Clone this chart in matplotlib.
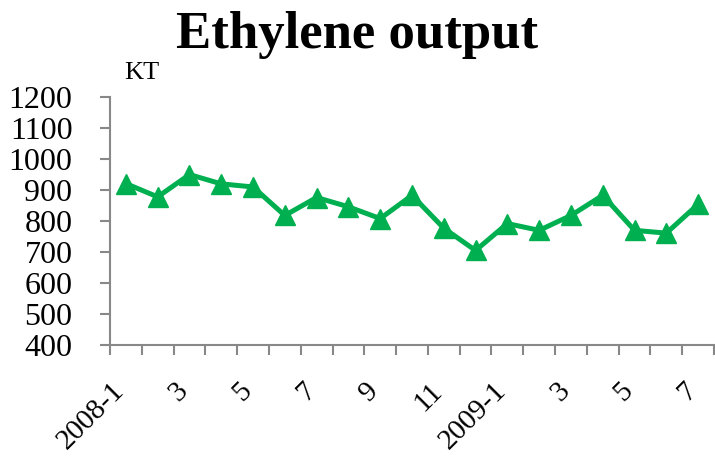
import numpy as np
import matplotlib
matplotlib.use("Agg")
import matplotlib.pyplot as plt
import matplotlib.transforms as mtransforms

months = ["2008-1", "2", "3", "4", "5", "6", "7", "8", "9", "10", "11", "12",
          "2009-1", "2", "3", "4", "5", "6", "7"]
output_kt = [921, 878, 950, 920, 910, 818, 876, 846, 808, 883, 777, 705,
             792, 770, 818, 883, 770, 761, 854]
shown_labels = ["2008-1", "3", "5", "7", "9", "11", "2009-1", "3", "5", "7"]

plt.rcParams['font.family'] = ['Liberation Serif', 'DejaVu Serif']

fig = plt.figure(figsize=(7.15, 4.58), dpi=100)
ax = fig.add_axes([0.1538, 0.2467, 0.8448, 0.5413])

x = np.arange(len(months))
ax.plot(x, output_kt, color='#00B050', linewidth=3.6, marker='^',
        markersize=14.5, clip_on=False)

ax.set_xlim(-0.5, len(months) - 0.5)
ax.set_ylim(400, 1200)
ax.set_yticks(np.arange(400, 1201, 100))

# tick marks between categories, labels on every other month
ax.set_xticks(np.arange(-0.5, len(months), 1.0))
ax.set_xticklabels([])
ax.set_xticks(x[::2], minor=True)
ax.set_xticklabels(shown_labels, minor=True, rotation=45, ha='right',
                   va='center', rotation_mode='anchor', fontsize=21)
ax.tick_params(axis='x', which='minor', length=0, pad=30)
ax.tick_params(axis='x', which='major', direction='out', length=7,
               width=1.5, color='#888888')
ax.tick_params(axis='y', direction='out', length=7, width=1.5,
               color='#888888', labelsize=23, pad=20)

# nudge the rotated labels a little left
shift = mtransforms.ScaledTranslation(-4 / 72, 0, fig.dpi_scale_trans)
for lab in ax.get_xticklabels(minor=True):
    lab.set_transform(lab.get_transform() + shift)

for s in ['top', 'right']:
    ax.spines[s].set_visible(False)
for s in ['left', 'bottom']:
    ax.spines[s].set_color('#888888')
    ax.spines[s].set_linewidth(1.5)

fig.text(0.5, 0.975, "Ethylene output", ha='center', va='top',
         fontsize=38, fontweight='bold')
fig.text(0.174, 0.828, "KT", ha='left', va='baseline', fontsize=19)

fig.savefig("out.png", dpi=100)
